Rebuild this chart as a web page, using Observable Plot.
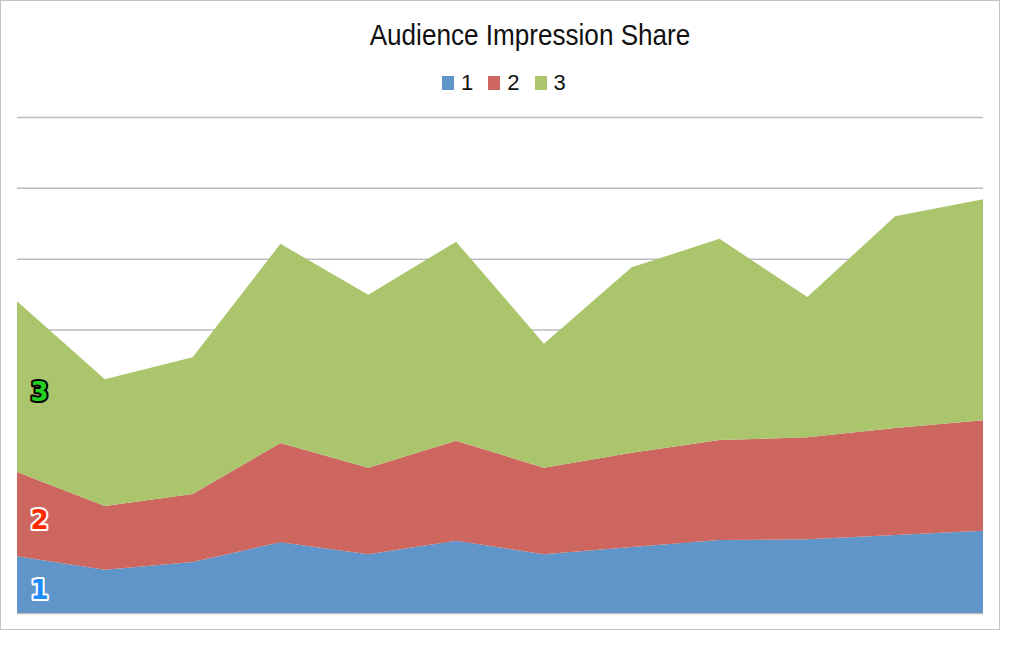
<!DOCTYPE html>
<html>
<head>
<meta charset="utf-8">
<script src="https://cdn.jsdelivr.net/npm/d3@7"></script>
<script src="https://cdn.jsdelivr.net/npm/@observablehq/plot@0.6"></script>
<style>
  html, body { margin: 0; padding: 0; background: #fff; width: 1024px; height: 655px; overflow: hidden; }
  #frame { position: absolute; left: 0px; top: 0px; width: 1000px; height: 630px; box-sizing: border-box; border: 1.5px solid #c4c4c4; }
  #title { position: absolute; left: 0; top: 19px; width: 1060px; text-align: center; font-family: "Liberation Sans Narrow", "Liberation Sans", sans-serif; font-size: 29px; color: #111; transform: scaleX(0.9); transform-origin: 530px 0; }
  #legend { position: absolute; left: 442px; top: 70px; display: flex; align-items: center; font-family: "Liberation Sans", sans-serif; font-size: 22px; color: #111; }
  .sw { display: inline-block; width: 12px; height: 14px; margin-right: 7px; }
  .item { display: flex; align-items: center; margin-right: 15px; }
  #chart { position: absolute; left: 0; top: 100px; }
</style>
</head>
<body>
<div id="frame"></div>
<div id="title"></div>
<div id="legend"></div>
<div id="chart"></div>
<script>
const title = "Audience Impression Share";
const seriesNames = ["1", "2", "3"];
const colors = ["#5f95c8", "#cc665f", "#abc56d"];
const points = [0, 1, 2, 3, 4, 5, 6, 7, 8, 9, 10, 11];
const series1 = [0.80, 0.61, 0.72, 1.00, 0.83, 1.02, 0.83, 0.93, 1.03, 1.04, 1.10, 1.16];
const series2 = [1.19, 0.90, 0.96, 1.40, 1.22, 1.41, 1.22, 1.33, 1.41, 1.44, 1.51, 1.56];
const series3 = [2.41, 1.79, 1.93, 2.81, 2.44, 2.81, 1.75, 2.62, 2.84, 1.98, 2.99, 3.12];
const gridTicks = [0, 1, 2, 3, 4, 5, 6, 7];
const labelFills = ["#1e8cff", "#ff2a00", "#22d322"];
const labelStrokes = ["#ffffff", "#ffffff", "#000000"];

document.getElementById("title").textContent = title;
const legend = document.getElementById("legend");
seriesNames.forEach((s, i) => {
  const it = document.createElement("div");
  it.className = "item";
  const sw = document.createElement("span");
  sw.className = "sw";
  sw.style.background = colors[i];
  it.appendChild(sw);
  it.appendChild(document.createTextNode(s));
  legend.appendChild(it);
});

const allSeries = [series1, series2, series3];
const data = [];
allSeries.forEach((vals, si) => {
  points.forEach((p, j) => data.push({x: p, y: vals[j], series: seriesNames[si]}));
});

// label positions: middle of each band at the first point
let base = 0;
const labelMarks = allSeries.map((vals, si) => {
  const mid = base + vals[0] / 2;
  base += vals[0];
  return Plot.text([{x: points[0], y: mid, t: seriesNames[si]}], {
    x: "x", y: "y", text: "t", dx: 22, dy: 6,
    fill: labelFills[si], stroke: labelStrokes[si], strokeWidth: 4,
    fontSize: 26, fontWeight: "bold", fontFamily: "DejaVu Sans, sans-serif"
  });
});

const chart = Plot.plot({
  width: 1000,
  height: 529,
  marginLeft: 17,
  marginRight: 17,
  marginTop: 17,
  marginBottom: 16,
  x: {domain: [0, 11], axis: null},
  y: {domain: [0, 7], axis: null},
  color: {domain: seriesNames, range: colors},
  style: {background: "transparent"},
  marks: [
    Plot.ruleY(gridTicks, {stroke: "#bdbdbd", strokeWidth: 1.5}),
    Plot.areaY(data, {x: "x", y: "y", fill: "series", z: "series"}),
    ...labelMarks
  ]
});
document.getElementById("chart").appendChild(chart);
</script>
</body>
</html>
